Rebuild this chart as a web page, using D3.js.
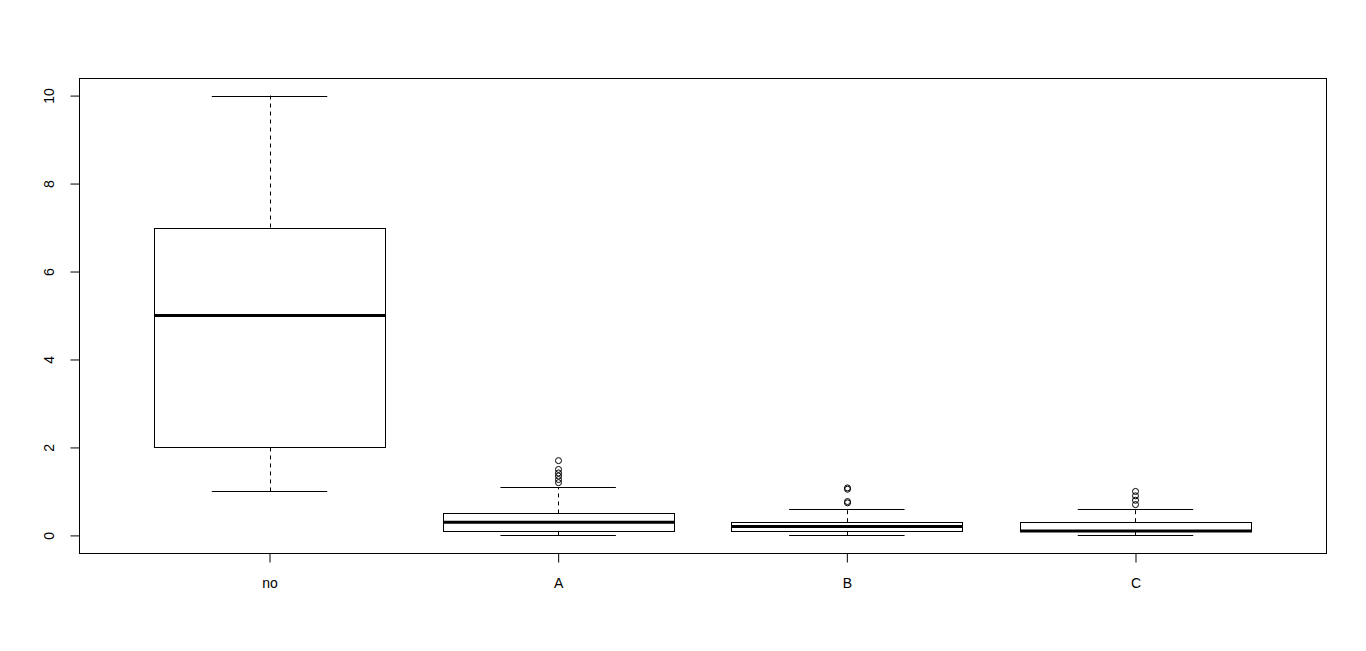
<!DOCTYPE html>
<html>
<meta charset="utf-8">
<head>
<style>
body { margin: 0; background: #fff; }
</style>
<script src="https://d3js.org/d3.v7.min.js"></script>
</head>
<body>
<svg width="1366" height="651"></svg>
<script>
// boxplot stats
var groups   = ["no", "A", "B", "C"];
var lowWhisk = [1, 0, 0, 0];
var q1       = [2, 0.1, 0.1, 0.1];
var medians  = [5, 0.3, 0.2, 0.1];
var q3       = [7, 0.5, 0.3, 0.3];
var hiWhisk  = [10, 1.1, 0.6, 0.6];
var outliers = [[], [1.2, 1.27, 1.35, 1.42, 1.5, 1.7], [0.74, 0.77, 1.05, 1.08], [0.7, 0.8, 0.9, 1.0]];
var yTicks   = [0, 2, 4, 6, 8, 10];

var svg = d3.select("svg");
var mLeft = 79, mRight = 1326, mTop = 78, mBottom = 553;

var x = d3.scaleLinear().domain([0.34, 4.66]).range([mLeft, mRight]);
var y = d3.scaleLinear().domain([-0.4, 10.4]).range([mBottom, mTop]);

var boxW = x(1.4) - x(1), stapleW = x(1.2) - x(1);

var data = groups.map(function(g, i) {
  return {name: g, pos: i + 1, lo: lowWhisk[i], q1: q1[i], med: medians[i], q3: q3[i], hi: hiWhisk[i], out: outliers[i]};
});

var g = svg.selectAll(".box").data(data).enter().append("g").attr("class", "box");

// whiskers (dashed)
g.append("line")
  .attr("x1", function(d) { return Math.round(x(d.pos)) + 0.5; }).attr("x2", function(d) { return Math.round(x(d.pos)) + 0.5; })
  .attr("y1", function(d) { return y(d.q3); }).attr("y2", function(d) { return y(d.hi); })
  .attr("stroke", "#000").attr("stroke-dasharray", "4,4");
g.append("line")
  .attr("x1", function(d) { return Math.round(x(d.pos)) + 0.5; }).attr("x2", function(d) { return Math.round(x(d.pos)) + 0.5; })
  .attr("y1", function(d) { return y(d.q1); }).attr("y2", function(d) { return y(d.lo); })
  .attr("stroke", "#000").attr("stroke-dasharray", "4,4");

// staples
["hi", "lo"].forEach(function(k) {
  g.append("line")
    .attr("x1", function(d) { return x(d.pos) - stapleW; }).attr("x2", function(d) { return x(d.pos) + stapleW; })
    .attr("y1", function(d) { return Math.round(y(d[k])) + 0.5; }).attr("y2", function(d) { return Math.round(y(d[k])) + 0.5; })
    .attr("stroke", "#000");
});

// box
g.append("rect")
  .attr("x", function(d) { return Math.round(x(d.pos) - boxW) + 0.5; })
  .attr("width", Math.round(2 * boxW))
  .attr("y", function(d) { return Math.round(y(d.q3)) + 0.5; })
  .attr("height", function(d) { return Math.round(y(d.q1)) - Math.round(y(d.q3)); })
  .attr("fill", "#fff").attr("stroke", "#000");

// median
g.append("line")
  .attr("x1", function(d) { return Math.round(x(d.pos) - boxW); }).attr("x2", function(d) { return Math.round(x(d.pos) + boxW) + 1; })
  .attr("y1", function(d) { return y(d.med); }).attr("y2", function(d) { return y(d.med); })
  .attr("stroke", "#000").attr("stroke-width", 3);

// outliers
g.selectAll("circle").data(function(d) { return d.out.map(function(v) { return {pos: d.pos, v: v}; }); })
  .enter().append("circle")
  .attr("cx", function(d) { return Math.round(x(d.pos)) + 0.5; })
  .attr("cy", function(d) { return y(d.v); })
  .attr("r", 3).attr("fill", "none").attr("stroke", "#000");

// frame
svg.append("rect").attr("x", mLeft + 0.5).attr("y", mTop + 0.5)
  .attr("width", mRight - mLeft).attr("height", mBottom - mTop)
  .attr("fill", "none").attr("stroke", "#000");

// y axis
var yAxis = svg.append("g").attr("transform", "translate(" + (mLeft + 0.5) + ",0)")
  .call(d3.axisLeft(y).tickValues(yTicks).tickSize(9).tickPadding(0).tickFormat(d3.format("d")))
  .attr("font-size", 14).attr("font-family", "Liberation Sans, Arial, sans-serif");
yAxis.select(".domain").remove();
yAxis.selectAll("text").attr("transform", "translate(-30,0) rotate(-90)")
  .attr("x", 0).attr("y", 0).attr("dy", "0.35em").attr("text-anchor", "middle");

// x axis
var xAxis = svg.append("g").attr("transform", "translate(0," + (mBottom + 0.5) + ")")
  .call(d3.axisBottom(x).tickValues([1, 2, 3, 4]).tickSize(9).tickPadding(16)
    .tickFormat(function(d) { return groups[d - 1]; }))
  .attr("font-size", 14).attr("font-family", "Liberation Sans, Arial, sans-serif");
xAxis.select(".domain").remove();
</script>
</body>
</html>
